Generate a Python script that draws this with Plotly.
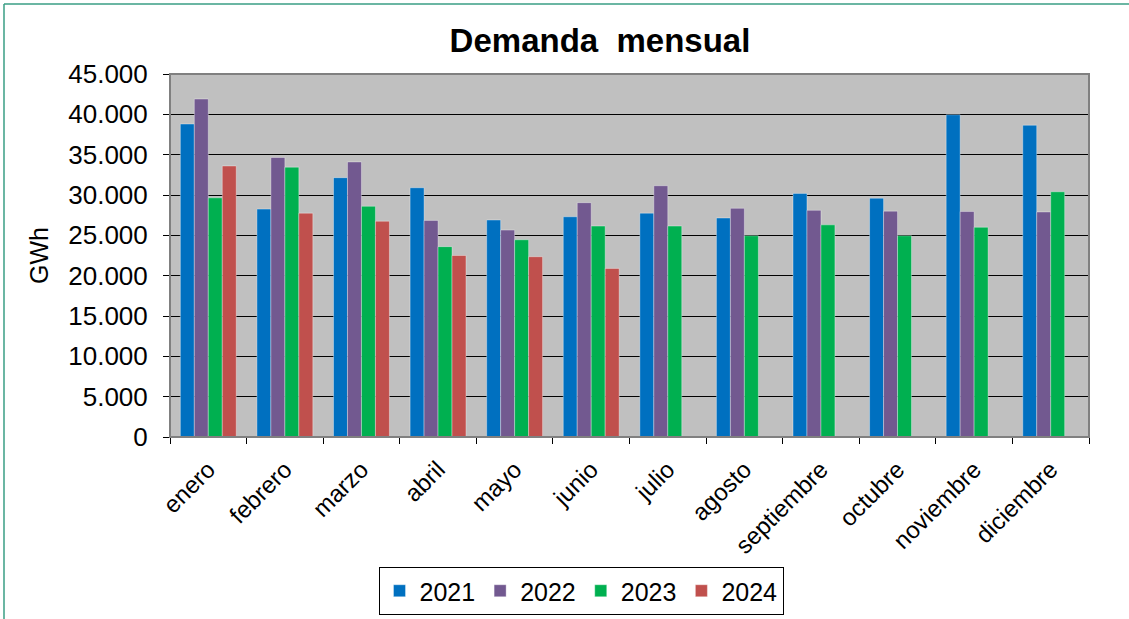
import plotly.graph_objects as go

months = ["enero", "febrero", "marzo", "abril", "mayo", "junio", "julio",
          "agosto", "septiembre", "octubre", "noviembre", "diciembre"]
y2021 = [38800, 28250, 32150, 30900, 26900, 27300, 27750, 27150, 30200, 29600, 39950, 38650]
y2022 = [41900, 34650, 34100, 26850, 25650, 29050, 31150, 28350, 28100, 28000, 27950, 27900]
y2023 = [29650, 33450, 28600, 23600, 24450, 26150, 26150, 24950, 26300, 24950, 26000, 30400]
y2024 = [33600, 27750, 26750, 22500, 22350, 20900, None, None, None, None, None, None]

series = [("2021", y2021, "#0070C0"), ("2022", y2022, "#725990"),
          ("2023", y2023, "#00B050"), ("2024", y2024, "#C0504D")]

fig = go.Figure()
for name, vals, col in series:
    fig.add_trace(go.Bar(x=months, y=vals, name=name, marker_color=col,
                         marker_line=dict(color="rgba(255,255,255,0.35)", width=1)))

L, R, T, B = 170, 1089, 74, 437
W, H = 1129, 619
pw, ph = R - L, B - T

def px(x):
    return (x - L) / pw

def py(y):
    return (B - y) / ph

fig.update_layout(
    width=W, height=H,
    margin=dict(l=L, r=W - R, t=T, b=H - B, autoexpand=False),
    paper_bgcolor="white", plot_bgcolor="#C0C0C0",
    separators=",.",
    barmode="group", bargap=0.27, bargroupgap=0,
    font=dict(family="Liberation Sans, Arial", color="black"),
    title=dict(text="<b>Demanda  mensual</b>", x=600 / W, xanchor="center",
               y=1 - 40 / H, yanchor="middle", font=dict(size=33)),
    legend=dict(orientation="h", x=px(581), xanchor="center", y=py(567), yanchor="top",
                bordercolor="black", borderwidth=1, font=dict(size=25),
                itemwidth=30, tracegroupgap=0),
    showlegend=True,
    shapes=[
        dict(type="line", xref="paper", yref="paper", x0=px(4), x1=px(1135), y0=py(4), y1=py(4),
             line=dict(color="#3a9e85", width=1.5)),
        dict(type="line", xref="paper", yref="paper", x0=px(4), x1=px(4), y0=py(4), y1=py(625),
             line=dict(color="#3a9e85", width=1.5)),
        dict(type="rect", xref="paper", yref="paper", x0=0, x1=1, y0=0, y1=1,
             line=dict(color="#808080", width=2), layer="above"),
    ],
)
fig.update_xaxes(tickangle=-45, tickfont=dict(size=24), ticks="outside", ticklen=6,
                 tickson="boundaries", tickcolor="black", showline=True, linecolor="black",
                 linewidth=1, automargin=False, ticklabelstandoff=8)
fig.update_yaxes(range=[0, 45000], dtick=5000, tickformat=",.0f", tickfont=dict(size=26),
                 ticks="outside", ticklen=6, tickcolor="black", showgrid=True,
                 gridcolor="black", gridwidth=1, zeroline=False, showline=True,
                 linecolor="black", linewidth=1, automargin=False, ticklabelstandoff=10,
                 title=dict(text="GWh", font=dict(size=25), standoff=12))

fig.write_html("out.html", post_script="document.body.style.margin='0';",
               config={"displayModeBar": False})
